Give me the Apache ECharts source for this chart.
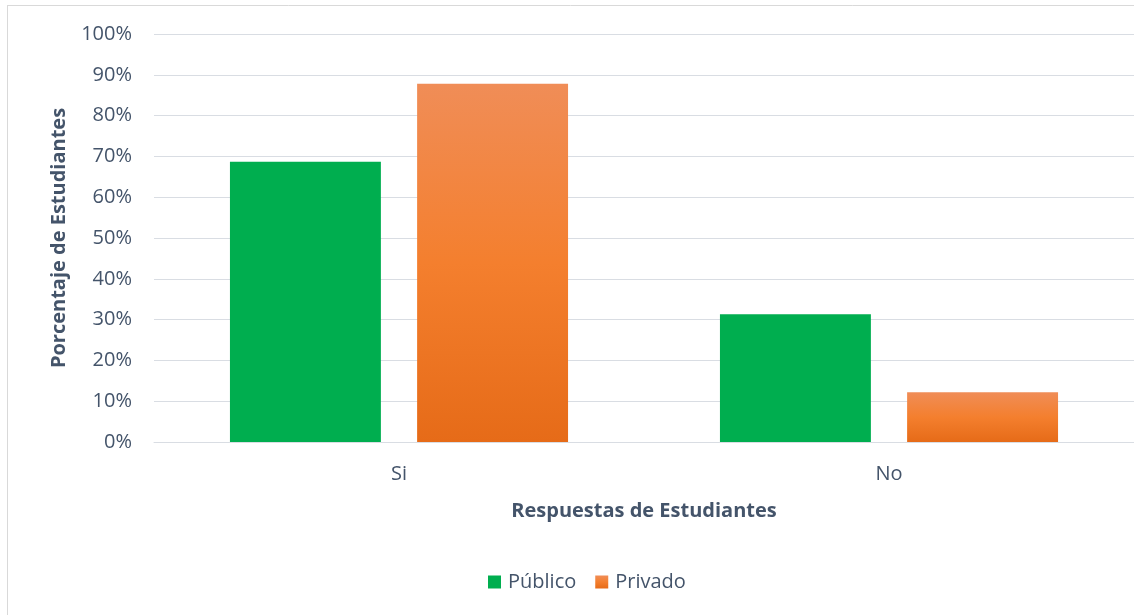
<!DOCTYPE html>
<html>
<head>
<meta charset="utf-8">
<script src="https://cdn.jsdelivr.net/npm/echarts@6/dist/echarts.min.js"></script>
<style>
  html, body { margin: 0; padding: 0; background: #fff; }
  #chart { width: 1134px; height: 615px; }
</style>
</head>
<body>
<div id="chart"></div>
<script>
// Respuestas por tipo de institución (porcentaje)
const categories = ['Si', 'No'];
const publico = [68.7, 31.3];
const privado = [87.8, 12.2];
const seriesNames = ['Público', 'Privado'];

const textColor = '#44546A';
const fontFamily = '"Open Sans", Lato, sans-serif';

const orangeGradient = new echarts.graphic.LinearGradient(0, 0, 0, 1, [
  { offset: 0, color: '#F08D57' },
  { offset: 0.5, color: '#F47F2E' },
  { offset: 1, color: '#E66B18' }
]);

const chart = echarts.init(document.getElementById('chart'));
chart.setOption({
  animation: false,
  backgroundColor: '#ffffff',
  textStyle: { fontFamily: fontFamily, color: textColor },
  grid: { left: 154, right: 0, top: 34, bottom: 173, containLabel: false },
  graphic: [
    { type: 'line', shape: { x1: 7.5, y1: 5, x2: 7.5, y2: 615 }, style: { stroke: '#D9D9D9', lineWidth: 1 } },
    { type: 'line', shape: { x1: 7, y1: 5.5, x2: 1134, y2: 5.5 }, style: { stroke: '#D9D9D9', lineWidth: 1 } }
  ],
  legend: {
    data: seriesNames,
    left: 483,
    top: 567,
    itemWidth: 13,
    itemHeight: 13,
    itemGap: 19,
    icon: 'rect',
    textStyle: { fontSize: 20, color: textColor, fontFamily: fontFamily, padding: [0, 0, 0, 2] }
  },
  xAxis: {
    type: 'category',
    data: categories,
    name: 'Respuestas de Estudiantes',
    nameLocation: 'middle',
    nameGap: 59,
    nameTextStyle: { fontSize: 20, fontWeight: 'bold', color: textColor, fontFamily: fontFamily },
    axisLine: { show: true, lineStyle: { color: '#D9DDE3', width: 1 } },
    axisTick: { show: false },
    axisLabel: { fontSize: 20, color: textColor, margin: 22, fontFamily: fontFamily }
  },
  yAxis: {
    type: 'value',
    min: 0,
    max: 100,
    interval: 10,
    name: 'Porcentaje de Estudiantes',
    nameLocation: 'middle',
    nameGap: 85,
    nameTextStyle: { fontSize: 20, fontWeight: 'bold', color: textColor, fontFamily: fontFamily },
    axisLine: { show: false },
    axisTick: { show: false },
    axisLabel: { formatter: '{value}%', fontSize: 20, color: textColor, margin: 22, fontFamily: fontFamily },
    splitLine: { lineStyle: { color: '#D9DDE3', width: 1 } }
  },
  series: [
    {
      name: seriesNames[0],
      type: 'bar',
      data: publico,
      barGap: '24%',
      barCategoryGap: '31%',
      itemStyle: { color: '#00AE4F' }
    },
    {
      name: seriesNames[1],
      type: 'bar',
      data: privado,
      itemStyle: { color: orangeGradient }
    }
  ]
});
</script>
</body>
</html>
